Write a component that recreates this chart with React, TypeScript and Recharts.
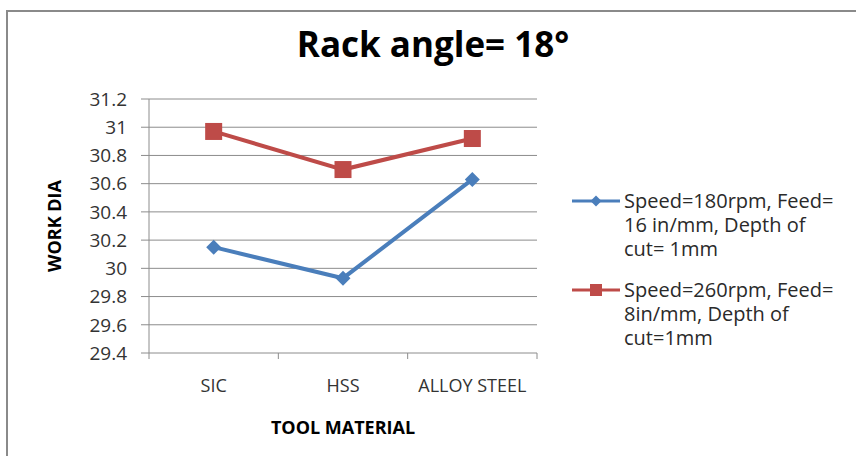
import React from "react";
import { LineChart, Line, XAxis, YAxis, CartesianGrid, Legend, Label } from "recharts";

const categories = ["SIC", "HSS", "ALLOY STEEL"];
const speed180 = [30.15, 29.93, 30.63];
const speed260 = [30.97, 30.7, 30.92];
const yTicks = [29.4, 29.6, 29.8, 30, 30.2, 30.4, 30.6, 30.8, 31, 31.2];
const seriesNames = [
  "Speed=180rpm, Feed= 16 in/mm, Depth of cut= 1mm",
  "Speed=260rpm, Feed= 8in/mm, Depth of cut=1mm",
];

const data = categories.map((c, i) => ({ material: c, s180: speed180[i], s260: speed260[i] }));

const FONT = "'Open Sans', sans-serif";
const BLUE = "#4A7EBB";
const RED = "#BE4B48";
const GRID = "#8c8c8c";
const TICK_GAP = 20;

function Diamond({ cx, cy, fill, r = 7.5 }: any) {
  if (cx == null || cy == null) return null;
  return <path d={`M${cx},${cy - r}L${cx + r},${cy}L${cx},${cy + r}L${cx - r},${cy}Z`} fill={fill} />;
}

function Square({ cx, cy, fill, r = 8.5 }: any) {
  if (cx == null || cy == null) return null;
  return <rect x={cx - r} y={cy - r} width={r * 2} height={r * 2} fill={fill} />;
}

// draws the label plus the small tick marks on the band edges
function MaterialTick(props: any) {
  const { x, y, payload, index, visibleTicksCount, width } = props;
  const band = (width ?? 388) / visibleTicksCount;
  const axisY = y - TICK_GAP;
  const last = index === visibleTicksCount - 1;
  return (
    <g>
      <line x1={x - band / 2} x2={x - band / 2} y1={axisY} y2={axisY + 6} stroke={GRID} />
      {last && <line x1={x + band / 2} x2={x + band / 2} y1={axisY} y2={axisY + 6} stroke={GRID} />}
      <text x={x} y={y} dy={19} textAnchor="middle" fontSize={18} fill="#333" fontFamily={FONT}>
        {payload.value}
      </text>
    </g>
  );
}

function LegendBox({ payload }: any) {
  return (
    <div style={{ fontFamily: FONT, fontSize: 20, color: "#2a2a2a", lineHeight: "24px" }}>
      {(payload || []).map((p: any, i: number) => (
        <div key={i} style={{ display: "flex", alignItems: "flex-start", marginBottom: 17 }}>
          <svg width={52} height={24} style={{ flex: "none" }}>
            <line x1={0} x2={48} y1={12} y2={12} stroke={p.color} strokeWidth={3} />
            {i === 0 ? (
              <Diamond cx={24} cy={12} fill={p.color} r={5.5} />
            ) : (
              <Square cx={24} cy={12} fill={p.color} r={6} />
            )}
          </svg>
          <div style={{ width: 220 }}>{p.value}</div>
        </div>
      ))}
    </div>
  );
}

export default function App() {
  return (
    <div style={{ position: "fixed", left: 0, top: 0, width: 856, height: 456, background: "#fff", overflow: "hidden" }}>
      <div
        style={{
          position: "absolute",
          left: 6,
          top: 10,
          width: 900,
          height: 500,
          borderTop: "2px solid #8a8a8a",
          borderLeft: "2px solid #8a8a8a",
        }}
      />
      <div
        style={{
          position: "absolute",
          left: 0,
          width: 866,
          top: 24,
          lineHeight: "40px",
          textAlign: "center",
          fontFamily: FONT,
          fontWeight: 700,
          fontSize: 35,
          color: "#000",
        }}
      >
        Rack angle= 18°
      </div>
      <LineChart
        width={856}
        height={456}
        data={data}
        margin={{ top: 99, right: 319, bottom: 43, left: 0 }}
        style={{ position: "absolute", left: 0, top: 0 }}
      >
        <CartesianGrid vertical={false} stroke={GRID} />
        <XAxis
          dataKey="material"
          scale="band"
          height={60}
          axisLine={false}
          tickLine={false}
          tickSize={0}
          tickMargin={TICK_GAP}
          tick={<MaterialTick />}
          interval={0}
        >
          <Label
            content={({ viewBox }: any) => (
              <text
                x={viewBox.x + viewBox.width / 2}
                y={427}
                textAnchor="middle"
                dominantBaseline="central"
                fontSize={18}
                fontWeight={700}
                fill="#000"
                fontFamily={FONT}
              >
                TOOL MATERIAL
              </text>
            )}
          />
        </XAxis>
        <YAxis
          width={149}
          domain={[29.4, 31.2]}
          ticks={yTicks}
          interval={0}
          stroke={GRID}
          tickSize={8}
          tickMargin={14}
          tick={{ fontSize: 19, fill: "#333", fontFamily: FONT }}
          tickFormatter={(v: number) => String(Number(v.toFixed(1)))}
        >
          <Label
            content={({ viewBox }: any) => {
              const cy = viewBox.y + viewBox.height / 2;
              return (
                <text
                  x={54}
                  y={cy}
                  transform={`rotate(-90 54 ${cy})`}
                  textAnchor="middle"
                  dominantBaseline="central"
                  fontSize={18}
                  fontWeight={700}
                  fill="#000"
                  fontFamily={FONT}
                >
                  WORK DIA
                </text>
              );
            }}
          />
        </YAxis>
        <Legend
          layout="vertical"
          align="center"
          verticalAlign="middle"
          content={<LegendBox />}
          wrapperStyle={{ left: 572, top: 189, width: 284 }}
        />
        <Line
          name={seriesNames[0]}
          dataKey="s180"
          stroke={BLUE}
          strokeWidth={4}
          dot={(p: any) => <Diamond key={`d${p.index}`} cx={p.cx} cy={p.cy} fill={BLUE} />}
          isAnimationActive={false}
        />
        <Line
          name={seriesNames[1]}
          dataKey="s260"
          stroke={RED}
          strokeWidth={4}
          dot={(p: any) => <Square key={`s${p.index}`} cx={p.cx} cy={p.cy} fill={RED} />}
          isAnimationActive={false}
        />
      </LineChart>
    </div>
  );
}
